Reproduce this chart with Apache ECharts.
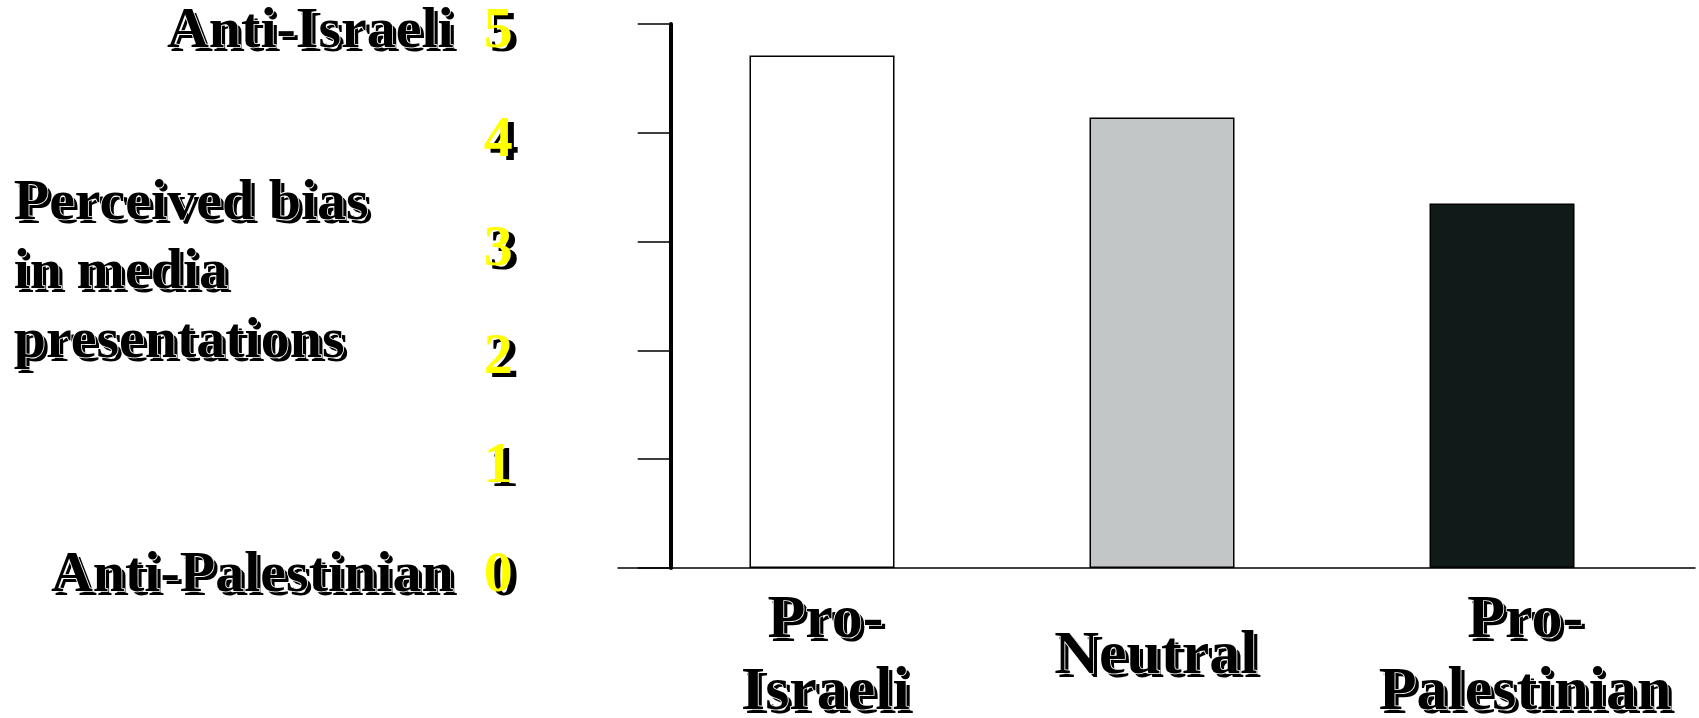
<!DOCTYPE html>
<html>
<head>
<meta charset="utf-8">
<script src="https://cdn.jsdelivr.net/npm/echarts@6/dist/echarts.min.js"></script>
<style>
  html, body { margin: 0; padding: 0; background: #ffffff; }
  #chart { width: 1699px; height: 718px; }
</style>
</head>
<body>
<div id="chart"></div>
<script>
// Mean perceived bias of the media presentation, by viewer group
const categories = ['Pro-\nIsraeli', 'Neutral', 'Pro-\nPalestinian'];
const biasScores = [4.71, 4.14, 3.35];
const barColors = ['#ffffff', '#c3c6c6', '#101a19'];
const yTickValues = [0, 1, 2, 3, 4, 5];
const yEndNames = ['Anti-Palestinian', 'Anti-Israeli']; // names of the scale's lower and upper ends
const yAxisTitleLines = ['Perceived bias', 'in media', 'presentations'];

const FONT = '"Liberation Serif", "Times New Roman", Times, serif';

// The lettering is drawn twice: a solid black copy shifted right/down
// (the drop shadow) and the front copy on top of it.
const SHADOW_DX = 4;
const SHADOW_DY = 4;
const DIGIT_DX = 6;

// Small horizontal nudges for the category captions (in category units)
const captionNudge = [0.01, -0.018, 0.068];
const X_MIN = -0.6, X_MAX = 2.5676;
const PX_PER_CATEGORY = 340;

const Y_LABEL_MARGIN = 158;
const Y_LABEL_DROP = 16;     // top padding that lowers the tick labels a little
const Y_NAME_BOX = 360;      // width of the left-aligned title block
const Y_NAME_GAP = 297;      // distance from the axis line to the title block's right edge
const Y_NAME_LIFT = 45;      // bottom padding that raises the title block
const GAP_WIDTH = 30;

function yLabelFormatter(v) {
  let name = null;
  if (v === yTickValues[0]) name = yEndNames[0];
  if (v === yTickValues[yTickValues.length - 1]) name = yEndNames[1];
  return name ? '{t|' + name + '}{g|}{n|' + v + '}' : '{n|' + v + '}';
}

function makeYAxis(front) {
  const base = { fontFamily: FONT, fontWeight: 'bold', fontSize: 58 };
  const frontEdge = front
    ? { textBorderColor: '#ffffff', textBorderWidth: 1.6 }
    : {};
  return {
    type: 'value',
    position: 'left',
    min: yTickValues[0],
    max: yTickValues[yTickValues.length - 1],
    interval: 1,
    offset: -52.7,
    z: front ? 3 : 1,
    axisLine: front
      ? { show: true, onZero: false, lineStyle: { color: '#000000', width: 4, cap: 'round' } }
      : { show: false, onZero: false },
    axisTick: front
      ? { show: true, length: 33, lineStyle: { color: '#000000', width: 1.5 } }
      : { show: false },
    splitLine: { show: false },
    axisLabel: {
      margin: front ? Y_LABEL_MARGIN : Y_LABEL_MARGIN - DIGIT_DX,
      padding: front ? [Y_LABEL_DROP, 0, 0, 0] : [Y_LABEL_DROP + 2 * SHADOW_DY, 0, 0, 0],
      formatter: yLabelFormatter,
      rich: {
        t: { ...base, color: '#000000', ...frontEdge },
        g: { width: front ? GAP_WIDTH : GAP_WIDTH + (DIGIT_DX - SHADOW_DX) },
        n: { ...base, color: front ? '#ffff00' : '#000000' }
      }
    },
    name: yAxisTitleLines.map((s) => '{a|' + s + '}').join('\n'),
    nameLocation: 'middle',
    nameRotate: 0,
    nameMoveOverlap: false,
    nameGap: front ? Y_NAME_GAP : Y_NAME_GAP - SHADOW_DX,
    nameTextStyle: {
      ...base,
      verticalAlign: 'middle',
      lineHeight: 69,
      color: '#000000',
      padding: front ? [0, 0, Y_NAME_LIFT, 0] : [0, 0, Y_NAME_LIFT - 2 * SHADOW_DY, 0],
      rich: {
        a: {
          ...base,
          width: Y_NAME_BOX,
          align: 'left',
          lineHeight: 69,
          color: '#000000',
          ...frontEdge
        }
      }
    }
  };
}

function makeXAxis(front) {
  const dx = front ? 0 : SHADOW_DX / PX_PER_CATEGORY;
  return {
    type: 'value',
    position: 'bottom',
    min: X_MIN,
    max: X_MAX,
    z: front ? 3 : 1,
    axisLine: front
      ? { show: true, onZero: false, lineStyle: { color: '#000000', width: 1.5 } }
      : { show: false, onZero: false },
    axisTick: { show: false },
    splitLine: { show: false },
    axisLabel: {
      customValues: categories.map((c, i) => i + captionNudge[i] + dx),
      formatter: (v) => categories[Math.round(v)],
      margin: front ? 89 : 89 + SHADOW_DY,
      verticalAlign: 'middle',
      align: 'center',
      fontFamily: FONT,
      fontWeight: 'bold',
      fontSize: 62,
      lineHeight: 72,
      color: '#000000',
      textBorderColor: front ? '#ffffff' : 'transparent',
      textBorderWidth: front ? 1.6 : 0
    }
  };
}

const chart = echarts.init(document.getElementById('chart'), null, { renderer: 'canvas' });

chart.setOption({
  animation: false,
  backgroundColor: '#ffffff',
  grid: {
    left: 618, right: 4, top: 24, bottom: 150,
    containLabel: false,
    outerBoundsMode: 'none'
  },
  // index 0: front layer (axis lines, ticks, lettering); index 1: shadow lettering
  xAxis: [makeXAxis(true), makeXAxis(false)],
  yAxis: [makeYAxis(true), makeYAxis(false)],
  series: [{
    type: 'bar',
    xAxisIndex: 0,
    yAxisIndex: 0,
    barWidth: 145,
    z: 2,
    data: biasScores.map((v, i) => ({
      value: [i, v],
      itemStyle: { color: barColors[i] }
    })),
    itemStyle: { borderColor: '#000000', borderWidth: 1.5 }
  }]
});
</script>
</body>
</html>
